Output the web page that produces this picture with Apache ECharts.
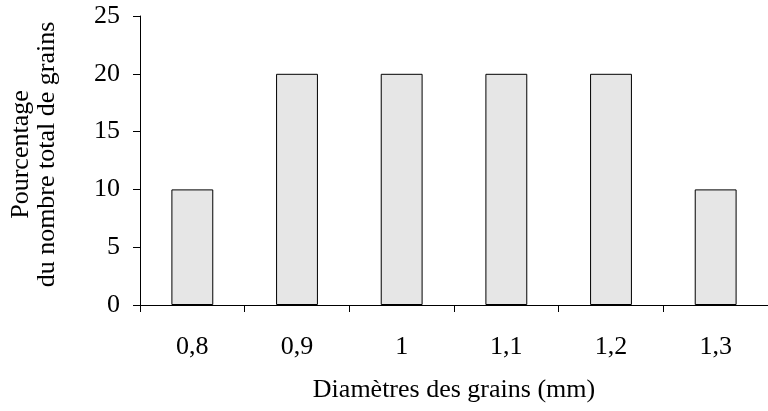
<!DOCTYPE html>
<html>
<head>
<meta charset="utf-8">
<script src="https://cdn.jsdelivr.net/npm/echarts@6/dist/echarts.min.js"></script>
<style>
  html, body { margin: 0; padding: 0; background: #fff; }
  #chart { width: 768px; height: 411px; }
</style>
</head>
<body>
<div id="chart"></div>
<script>
    // données
    var diametres = ['0,8', '0,9', '1', '1,1', '1,2', '1,3'];
    var pourcentages = [10, 20, 20, 20, 20, 10];
    var yTicks = [0, 5, 10, 15, 20, 25];

    var police = 'Liberation Serif';
    var myChart = echarts.init(document.getElementById('chart'));
    myChart.setOption({
        animation: false,
        textStyle: { fontFamily: police },
        grid: {
            left: 138,
            right: -8,
            top: 16,
            bottom: 106
        },
        xAxis: {
            type: 'category',
            data: diametres,
            name: 'Diamètres des grains (mm)',
            nameLocation: 'middle',
            nameGap: 72,
            nameTextStyle: { fontFamily: police, fontSize: 26, color: '#000' },
            axisLine: { lineStyle: { color: '#000', width: 1 } },
            axisTick: { show: true, length: 7, lineStyle: { color: '#000' } },
            axisLabel: { fontFamily: police, fontSize: 26, color: '#000', margin: 29 }
        },
        yAxis: {
            type: 'value',
            min: yTicks[0],
            max: yTicks[yTicks.length - 1],
            interval: 5,
            name: 'Pourcentage\ndu nombre total de grains',
            nameLocation: 'middle',
            nameGap: 80,
            nameTextStyle: { fontFamily: police, fontSize: 26, color: '#000', lineHeight: 26, padding: [0, 0, 0, 12] },
            axisLine: { show: true, lineStyle: { color: '#000', width: 1 } },
            axisTick: { show: true, length: 7, lineStyle: { color: '#000' } },
            axisLabel: { fontFamily: police, fontSize: 26, color: '#000', margin: 20 },
            splitLine: { show: false }
        },
        series: [
            {
                type: 'bar',
                data: pourcentages,
                barWidth: '40%',
                itemStyle: {
                    color: '#e6e6e6',
                    borderColor: '#000',
                    borderWidth: 1
                }
            }
        ]
    });
</script>
</body>
</html>
